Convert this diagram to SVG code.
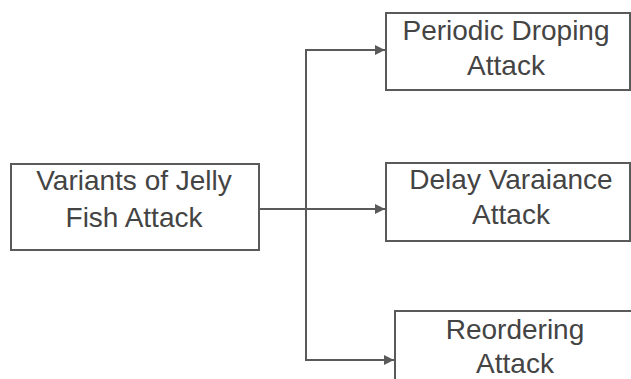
<svg xmlns="http://www.w3.org/2000/svg" width="631" height="379" viewBox="0 0 631 379">
<style>
.box{fill:#fff;stroke:#5a5a5a;stroke-width:2}
.lbl{font-family:"Liberation Sans",Arial,sans-serif;font-size:28px;fill:#444;text-anchor:middle}
.con{fill:none;stroke:#5a5a5a;stroke-width:2}
</style>
<defs>
<marker id="ah" markerWidth="10" markerHeight="10" refX="10" refY="5" orient="auto" markerUnits="userSpaceOnUse">
<path d="M0,0 L10,5 L0,10 Z" fill="#5a5a5a"/>
</marker>
</defs>
<rect width="631" height="379" fill="#fff"/>
<g id="connectors">
<path class="con" d="M259,209 H385" marker-end="url(#ah)"/>
<path class="con" d="M306,209 V50 H385" marker-end="url(#ah)"/>
<path class="con" d="M306,209 V360 H394" marker-end="url(#ah)"/>
</g>
<g id="root">
<rect class="box" x="11" y="164" width="248" height="86"/>
<text class="lbl" x="134" y="190">Variants of Jelly</text>
<text class="lbl" x="134" y="227">Fish Attack</text>
</g>
<g id="periodic">
<rect class="box" x="386" y="13" width="244" height="77"/>
<text class="lbl" x="506" y="40">Periodic Droping</text>
<text class="lbl" x="506" y="75">Attack</text>
</g>
<g id="delay">
<rect class="box" x="386" y="163" width="244" height="78"/>
<text class="lbl" x="511" y="189">Delay Varaiance</text>
<text class="lbl" x="511" y="224">Attack</text>
</g>
<g id="reorder">
<rect class="box" x="395" y="311" width="250" height="80"/>
<text class="lbl" x="515" y="339">Reordering</text>
<text class="lbl" x="515" y="373">Attack</text>
</g>
</svg>
